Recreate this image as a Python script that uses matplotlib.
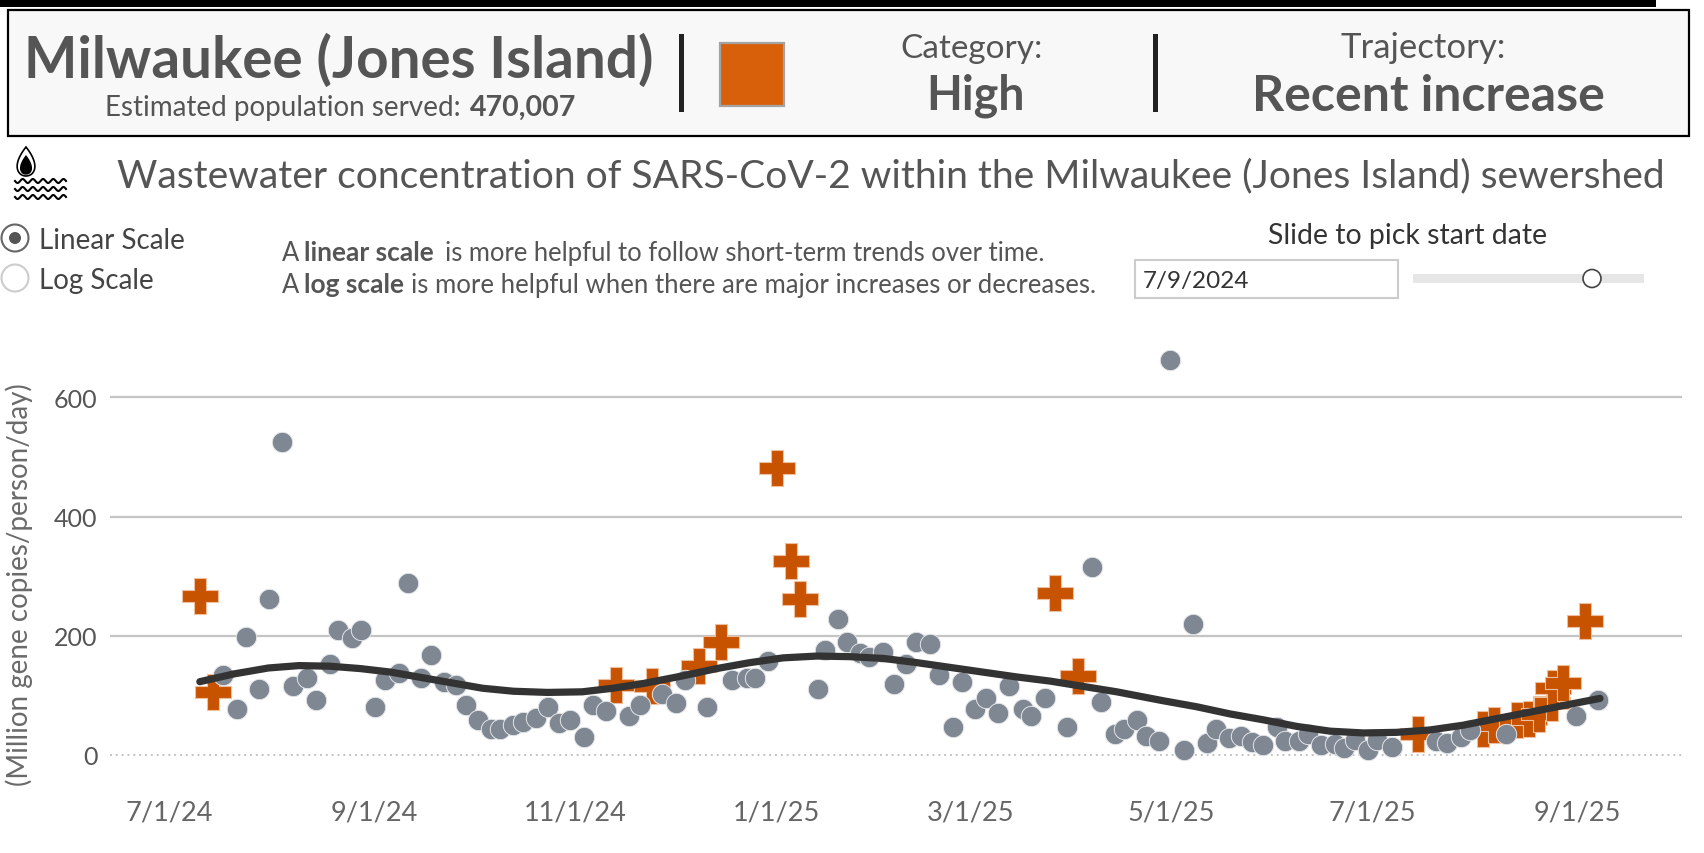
import numpy as np
import matplotlib
matplotlib.use('Agg')
import matplotlib.pyplot as plt
from matplotlib.patches import Rectangle, Circle, Polygon

W, H = 1704, 854
FONT = 'Lato'
plt.rcParams['font.family'] = [FONT, 'DejaVu Sans']

# all x values are days since 7/1/24
tick_days = [0, 62, 123, 184, 243, 304, 365, 427]
tick_labels = ['7/1/24', '9/1/24', '11/1/24', '1/1/25', '3/1/25', '5/1/25', '7/1/25', '9/1/25']
y_ticks = [0, 200, 400, 600]

grey_days = [16.3, 20.5, 23.1, 27.3, 30.1, 34.2, 37.5, 41.6, 44.4, 48.6, 51.2, 55.3, 58.2, 62.2, 65.5,
             69.7, 72.4, 76.4, 79.2, 83.3, 86.9, 90.1, 93.6, 97.6, 100.4, 104.3, 107.2, 111.3, 114.7,
             118.1, 121.6, 125.7, 128.4, 132.5, 139.4, 142.7, 149.5, 153.7, 156.4, 163.2, 170.7, 175.1,
             177.6, 181.6, 196.7, 198.8, 202.8, 205.6, 209.5, 212.2, 216.5, 219.9, 223.4, 226.6, 230.8,
             233.5, 237.6, 240.4, 244.4, 247.8, 251.3, 254.6, 258.8, 261.5, 265.6, 272.4, 279.9, 282.6,
             286.8, 289.7, 293.6, 296.3, 300.3, 303.6, 307.9, 310.6, 314.8, 317.5, 321.4, 325.1, 328.3,
             331.9, 336, 338.5, 342.8, 345.3, 349.5, 353.6, 356.3, 359.7, 363.7, 366.4, 370.8, 384.2,
             387.7, 391.8, 394.6, 405.5, 426.7, 433.5]
grey_vals = [134, 77, 198, 111, 262, 526, 115, 129, 92, 152, 209, 197, 209, 81, 126,
             137, 289, 130, 168, 122, 118, 84, 58, 43, 43, 51, 55, 62, 81,
             54, 58, 31, 84, 73, 65, 84, 103, 88, 126, 81, 126, 130,
             130, 157, 111, 176, 228, 190, 171, 164, 172, 119, 153, 190, 186,
             134, 47, 123, 77, 96, 70, 116, 77, 66, 96, 47, 315, 89,
             36, 44, 58, 32, 24, 663, 9, 220, 20, 43, 28, 32, 21,
             16, 47, 24, 24, 35, 16, 18, 12, 26, 9, 26, 13, 24,
             20, 31, 42, 35, 65, 92]

high_days = [9.2, 13.3, 135.4, 146.3, 160.5, 167.4, 184.4, 188.5, 191.4, 268.6, 275.6, 378.8,
             398.6, 401.7, 408.8, 412.6, 415.6, 419.5, 419.8, 422.7, 429.6]
high_vals = [266, 106, 117, 115, 149, 190, 482, 326, 261, 271, 132, 35,
             43, 50, 59, 61, 68, 88, 112, 121, 225]

trend_days = [9.2, 19.5, 30, 39.3, 48.6, 57.9, 67.2, 76.4, 85.7, 95, 104.3, 114.7, 125.2, 134.5, 143.8,
              155.9, 166, 176.1, 186.2, 196.4, 206.5, 216.6, 226.7, 236.8, 246.9, 257, 267.2, 277.3,
              287.4, 301.5, 311.6, 321.7, 331.9, 342, 352.1, 362.2, 372.3, 382.4, 392.5, 402.6, 412.8,
              422.9, 434]
trend_vals = [123, 136, 146, 150, 149, 145, 139, 130, 121, 112, 107, 105, 106, 112, 120,
              133, 145, 155, 163, 166, 165, 162, 155, 147, 139, 131, 124, 115,
              106, 91, 81, 69, 59, 48, 40, 37, 38, 42, 50, 61, 72,
              83, 95]

fig = plt.figure(figsize=(W / 100, H / 100), dpi=100, facecolor='white')

# chart area, placed so the scales land where the reference has them
left, right, top, bottom = 110, 1682, 340, 792
ax = fig.add_axes([left / W, 1 - bottom / H, (right - left) / W, (bottom - top) / H])
ax.set_xlim((left - 169.5) / 3.296, (right - 169.5) / 3.296)
ax.set_ylim((756 - bottom) / 0.596, (756 - top) / 0.596)
ax.patch.set_alpha(0)
for s in ax.spines.values():
    s.set_visible(False)
ax.set_yticks(y_ticks)
ax.set_yticklabels([str(v) for v in y_ticks], fontsize=18, color='#555555')
ax.set_xticks(tick_days)
ax.set_xticklabels(tick_labels, fontsize=19.5, color='#666666')
ax.tick_params(length=0)
ax.tick_params(axis='y', pad=9)
ax.tick_params(axis='x', pad=6)
ax.set_ylabel('(Million gene copies/person/day)', fontsize=20, color='#6a6a6a')
ax.yaxis.set_label_coords(-0.049, 0.458)
for v in y_ticks[1:]:
    ax.axhline(v, color='#c4c4c4', lw=1.6, zorder=1)
ax.axhline(0, color='#c4c4c4', lw=1.4, ls=(0, (1, 2)), zorder=1)

ax.scatter(high_days, high_vals, marker='P', s=670, color='#c75300', edgecolors='#eebf9f', linewidths=0.8, zorder=3)
ax.scatter(grey_days, grey_vals, marker='o', s=215, color='#7f8792', edgecolors='#e3e5e8', linewidths=0.7, zorder=4)
ax.plot(trend_days, trend_vals, color='#333333', lw=5.2, solid_capstyle='round', solid_joinstyle='round', zorder=5)

# page furniture drawn in pixel coordinates
ui = fig.add_axes([0, 0, 1, 1], zorder=-1)
ui.set_xlim(0, W)
ui.set_ylim(H, 0)
ui.axis('off')


def label(x, y, text, size, color='#555555', bold=False, ha='left'):
    ui.text(x, y, text, fontsize=size, color=color, ha=ha, va='baseline',
            fontweight='bold' if bold else 'normal')


ui.add_patch(Rectangle((0, 1), 1656, 7, fc='black', ec='none'))
ui.add_patch(Rectangle((8, 11), 1681, 126, fc='#f8f8f8', ec='black', lw=1.6))
ui.add_patch(Rectangle((678.5, 35), 5, 78, fc='#222222', ec='none'))
ui.add_patch(Rectangle((1152.5, 35), 5, 78, fc='#222222', ec='none'))
ui.add_patch(Rectangle((720, 44), 64, 63, fc='#d9600a', ec='#a3a3a3', lw=1.6))

label(24, 78, 'Milwaukee (Jones Island)', 40.8, bold=True)
label(105, 116, 'Estimated population served:', 20)
label(470, 116, '470,007', 20.5, bold=True)
label(972, 58, 'Category:', 24, ha='center')
label(976, 110, 'High', 33.5, bold=True, ha='center')
label(1423, 58, 'Trajectory:', 25, ha='center')
label(1428, 111, 'Recent increase', 36, bold=True, ha='center')
label(117, 187, 'Wastewater concentration of SARS-CoV-2 within the Milwaukee (Jones Island) sewershed', 28.1)

# water drop icon
th = np.linspace(0, 2 * np.pi, 120)
drop_x = 11.5 * np.sin(th) * np.sin(th / 2)
drop_y = 14.5 * (1 - np.cos(th))
ui.add_patch(Polygon(np.c_[26 + drop_x, 148 + drop_y], closed=True, fc='white', ec='black', lw=1.2))
ui.add_patch(Polygon(np.c_[26 + 0.68 * drop_x, 156 + 0.68 * drop_y], closed=True, fc='black', ec='none'))
for wy in [182, 190, 198]:
    wx = np.linspace(15, 66, 200)
    ui.plot(wx, wy + 2 * np.sin((wx - 15) / 51 * 2 * np.pi * 5), color='black', lw=1.5)

# scale radio buttons
ui.add_patch(Circle((15, 239), 13.5, fc='white', ec='#666666', lw=1.5))
ui.add_patch(Circle((15, 239), 6, fc='#555555', ec='none'))
ui.add_patch(Circle((15, 279), 13.5, fc='white', ec='#cccccc', lw=1.5))
label(39, 249, 'Linear Scale', 20, color='#444444')
label(39, 289, 'Log Scale', 20, color='#444444')

label(282, 261, 'A', 18.4)
label(304, 261, 'linear scale', 19, bold=True)
label(445, 261, 'is more helpful to follow short-term trends over time.', 18.45)
label(282, 293, 'A', 18.4)
label(304, 293, 'log scale', 19, bold=True)
label(411, 293, 'is more helpful when there are major increases or decreases.', 18.5)

# date slider
label(1268, 244, 'Slide to pick start date', 20.4, color='#333333')
ui.add_patch(Rectangle((1135, 261), 263, 38, fc='white', ec='#cccccc', lw=1.5))
label(1143, 288, '7/9/2024', 17.5, color='#333333')
ui.add_patch(Rectangle((1413, 275), 231, 9, fc='#e6e6e6', ec='none'))
ui.add_patch(Circle((1592, 279.5), 9, fc='white', ec='#444444', lw=1.2, zorder=3))

fig.savefig('out.png', dpi=100)
